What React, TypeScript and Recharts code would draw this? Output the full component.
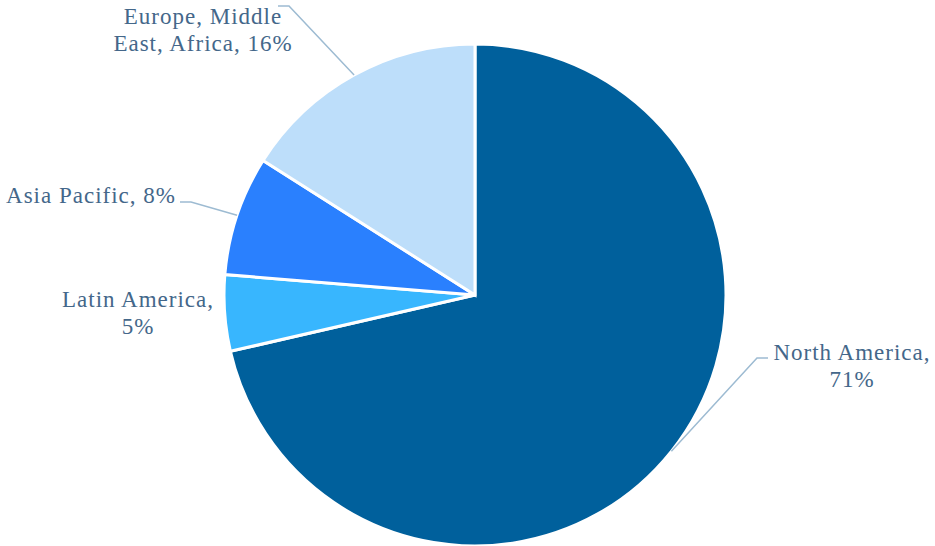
import React from 'react';
import { PieChart, Pie, Cell } from 'recharts';

const REGIONS = ['North America', 'Latin America', 'Asia Pacific', 'Europe, Middle East, Africa'];
const SHARES = [71.4, 4.9, 7.7, 16.0];
const COLORS = ['#00609C', '#38B6FE', '#2A80FE', '#BDDEFA'];

const TEXT_COLOR = '#44678A';
const LINE_COLOR = '#9DBBD2';

// label placement relative to the pie centre; elbow/end are null when no leader line
const LABEL_LAYOUT = [
  { tx: 377, ty: 65, elbow: [282, 63], end: [293, 63], breakAfter: 2 },
  { tx: -337, ty: 12, elbow: null, end: null, breakAfter: 2 },
  { tx: -384, ty: -92, elbow: [-284, -93], end: [-295, -93], breakAfter: 0 },
  { tx: -272, ty: -271, elbow: [-186, -289], end: [-197, -289], breakAfter: 2 },
];

const data = REGIONS.map((name, i) => ({ name, value: SHARES[i] }));

const RADIAN = Math.PI / 180;

const renderLabel = (props: any) => {
  const { cx, cy, midAngle, outerRadius, percent, name, index } = props;
  const layout = LABEL_LAYOUT[index];
  const words = `${name}, ${Math.round(percent * 100)}%`.split(' ');
  const lines =
    layout.breakAfter > 0
      ? [words.slice(0, layout.breakAfter).join(' '), words.slice(layout.breakAfter).join(' ')]
      : [words.join(' ')];
  const sx = cx + outerRadius * Math.cos(-midAngle * RADIAN);
  const sy = cy + outerRadius * Math.sin(-midAngle * RADIAN);
  const x = cx + layout.tx;
  const y = cy + layout.ty;
  return (
    <g key={`label-${index}`}>
      {layout.elbow && layout.end && (
        <polyline
          points={`${sx},${sy} ${cx + layout.elbow[0]},${cy + layout.elbow[1]} ${cx + layout.end[0]},${cy + layout.end[1]}`}
          fill="none"
          stroke={LINE_COLOR}
          strokeWidth={1.5}
        />
      )}
      <text
        x={x}
        y={y}
        textAnchor="middle"
        fill={TEXT_COLOR}
        fontFamily="Liberation Serif"
        fontSize={23}
        letterSpacing={1}
      >
        {lines.map((line, i) => (
          <tspan key={i} x={x} dy={i === 0 ? 0 : 27}>
            {line}
          </tspan>
        ))}
      </text>
    </g>
  );
};

const App: React.FC = () => {
  return (
    <div style={{ position: 'absolute', left: 0, top: 0, width: 935, height: 546, background: '#ffffff' }}>
      <PieChart width={935} height={546} margin={{ top: 0, right: 0, bottom: 0, left: 0 }}>
        <Pie
          data={data}
          dataKey="value"
          nameKey="name"
          cx={475}
          cy={295}
          outerRadius={251}
          startAngle={90}
          endAngle={-270}
          stroke="#ffffff"
          strokeWidth={3}
          label={renderLabel}
          labelLine={false}
          isAnimationActive={false}
        >
          {data.map((d, i) => (
            <Cell key={d.name} fill={COLORS[i]} />
          ))}
        </Pie>
      </PieChart>
    </div>
  );
};

export default App;
